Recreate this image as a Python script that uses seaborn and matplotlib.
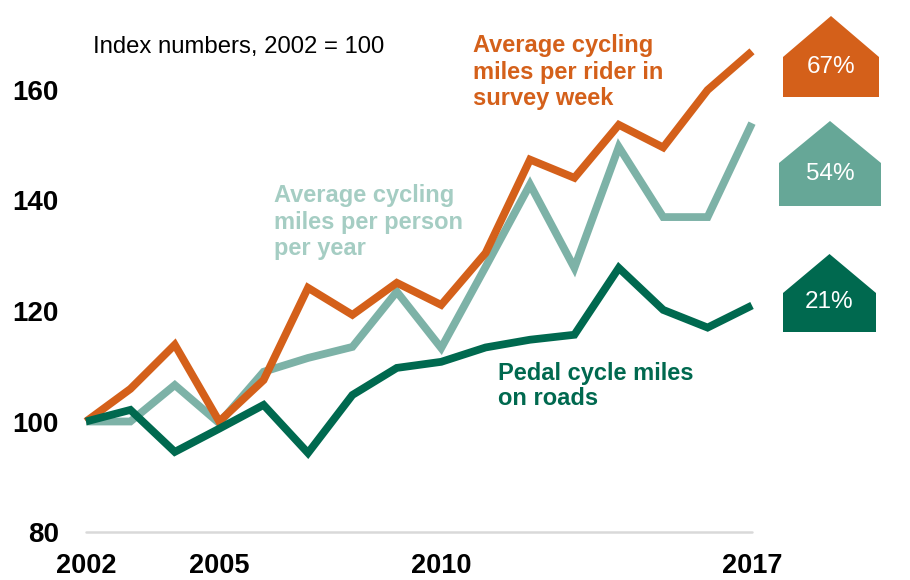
import matplotlib
matplotlib.use("Agg")
import matplotlib.pyplot as plt
from matplotlib.patches import Polygon
import pandas as pd
import seaborn as sns

years = list(range(2002, 2018))
rider_week = [100, 105.9, 113.9, 100, 107.5, 124.2, 119.3, 125.1, 121.1,
              130.5, 147.4, 144.1, 153.7, 149.6, 160.0, 167.0]
person_year = [100, 100, 106.6, 99.7, 109.0, 111.5, 113.5, 123.5, 113.3,
               128.0, 142.9, 127.8, 149.7, 137.0, 137.0, 154.0]
road_miles = [100, 102.1, 94.5, 98.7, 103.0, 94.3, 104.8, 109.7, 110.8,
              113.4, 114.8, 115.7, 127.8, 120.2, 117.0, 121.0]

series_names = ["Average cycling\nmiles per person\nper year",
                "Average cycling\nmiles per rider in\nsurvey week",
                "Pedal cycle miles\non roads"]
x_ticks = [2002, 2005, 2010, 2017]
y_ticks = [80, 100, 120, 140, 160]
subtitle = "Index numbers, 2002 = 100"

ORANGE = "#D4601A"
TEAL = "#7DB2A7"
TEAL_TEXT = "#A5CDC3"
TEAL_BOX = "#66A797"
DARK = "#00694F"

df = pd.DataFrame({
    "year": years * 3,
    "index": person_year + rider_week + road_miles,
    "series": [series_names[0]] * 16 + [series_names[1]] * 16 + [series_names[2]] * 16,
})

sns.set_theme(style="white")
plt.rcParams["font.family"] = ["Liberation Sans", "DejaVu Sans"]

W, H = 910, 580
fig = plt.figure(figsize=(W / 100, H / 100), dpi=100)


def fx(px):
    return px / W


def fy(py):
    return 1 - py / H


# axes placed so 2002..2017 spans 86..752 px and 80..172 spans 532..24 px
y_top_val = 172
px_per_unit = (532 - 90) / 80
top_px = 532 - (y_top_val - 80) * px_per_unit
ax = fig.add_axes([fx(86), fy(532), fx(752) - fx(86), (532 - top_px) / H])

sns.lineplot(data=df, x="year", y="index", hue="series",
             palette=[TEAL, ORANGE, DARK], hue_order=series_names,
             linewidth=5.6, ax=ax, legend=False, clip_on=False,
             solid_joinstyle="miter", solid_capstyle="butt")

ax.set_xlim(2002, 2017)
ax.set_ylim(80, y_top_val)
ax.axhline(80, color="#D9D9D9", linewidth=1.8, zorder=0, clip_on=False)
for s in ax.spines.values():
    s.set_visible(False)
ax.set_xticks(x_ticks)
ax.set_xticklabels([str(t) for t in x_ticks], fontsize=19.5, fontweight="bold")
ax.set_yticks(y_ticks)
ax.set_yticklabels([str(t) for t in y_ticks], fontsize=20, fontweight="bold")
ax.tick_params(axis="both", length=0, colors="black")
ax.tick_params(axis="x", pad=15)
ax.tick_params(axis="y", pad=19.5)
ax.set_xlabel("")
ax.set_ylabel("")
ax.grid(False)

fig.text(fx(93), fy(47), subtitle, fontsize=17.2, va="center", ha="left", color="black")

fig.text(fx(473), fy(72), series_names[1], fontsize=17, fontweight="bold",
         color=ORANGE, va="center", ha="left", linespacing=1.17)
fig.text(fx(274), fy(222), series_names[0], fontsize=17, fontweight="bold",
         color=TEAL_TEXT, va="center", ha="left", linespacing=1.17)
fig.text(fx(498), fy(386), series_names[2], fontsize=17, fontweight="bold",
         color=DARK, va="center", ha="left", linespacing=1.12)

# house-shaped change badges with percentage growth since 2002
badges = [
    (rider_week, ORANGE, (783, 879, 16, 57, 97)),
    (person_year, TEAL_BOX, (779, 881, 121, 163, 206)),
    (road_miles, DARK, (783, 876, 254, 293, 332)),
]
for values, color, (x0, x1, peak, shoulder, bottom) in badges:
    xm = (x0 + x1) / 2
    pts = [(fx(x0), fy(bottom)), (fx(x1), fy(bottom)), (fx(x1), fy(shoulder)),
           (fx(xm), fy(peak)), (fx(x0), fy(shoulder))]
    fig.patches.append(Polygon(pts, closed=True, facecolor=color,
                               edgecolor="none", transform=fig.transFigure))
    pct = round((values[-1] / values[0] - 1) * 100)
    fig.text(fx(xm), fy((shoulder + bottom) / 2 - 10), f"{pct}%", fontsize=17.5,
             color="white", ha="center", va="center")

fig.savefig("out.png", dpi=100)
